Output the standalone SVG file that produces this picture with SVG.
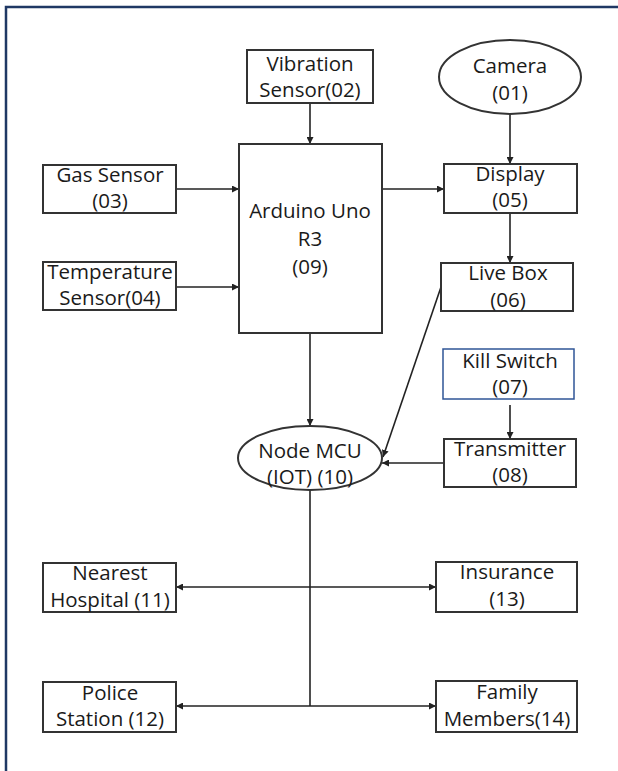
<svg xmlns="http://www.w3.org/2000/svg" width="618" height="771" viewBox="0 0 618 771">
  <style>
    .box { fill: #ffffff; stroke: #333333; stroke-width: 2; }
    .blue { fill: #ffffff; stroke: #2f5597; stroke-width: 1.5; }
    .lbl { font-family: "Open Sans", "Liberation Sans", sans-serif; font-size: 20.5px; fill: #1a1a1a; text-anchor: middle; }
    .wire { fill: none; stroke: #222222; stroke-width: 1.6; }
    .arr { marker-end: url(#head); }
  </style>
  <defs>
    <marker id="head" viewBox="0 0 10 10" refX="10" refY="5" markerWidth="7" markerHeight="7" markerUnits="userSpaceOnUse" orient="auto">
      <path d="M0,0 L10,5 L0,10 z" fill="#222222"/>
    </marker>
  </defs>

  <rect x="0" y="0" width="618" height="771" fill="#ffffff"/>
  <!-- frame -->
  <path d="M6,771 V7 H618" fill="none" stroke="#1f3864" stroke-width="2.5"/>

  <!-- connectors -->
  <g id="connectors">
    <line class="wire arr" x1="310" y1="103" x2="310" y2="144"/>
    <line class="wire arr" x1="510" y1="114" x2="510" y2="164"/>
    <line class="wire arr" x1="176" y1="189" x2="239" y2="189"/>
    <line class="wire arr" x1="176" y1="287" x2="239" y2="287"/>
    <line class="wire arr" x1="382" y1="189" x2="444" y2="189"/>
    <line class="wire arr" x1="510" y1="213" x2="510" y2="263"/>
    <line class="wire arr" x1="510" y1="405" x2="510" y2="439"/>
    <line class="wire arr" x1="310" y1="333" x2="310" y2="426"/>
    <line class="wire arr" x1="441" y1="287" x2="383" y2="457"/>
    <line class="wire arr" x1="444" y1="463" x2="382" y2="463"/>
    <line class="wire" x1="310" y1="490" x2="310" y2="706"/>
    <line class="wire arr" x1="310" y1="587" x2="176" y2="587"/>
    <line class="wire arr" x1="310" y1="587" x2="436" y2="587"/>
    <line class="wire arr" x1="310" y1="706" x2="176" y2="706"/>
    <line class="wire arr" x1="310" y1="706" x2="436" y2="706"/>
  </g>

  <g id="camera">
    <ellipse class="box" cx="510" cy="77" rx="71" ry="37"/>
    <text class="lbl" x="510" y="73">Camera</text>
    <text class="lbl" x="510" y="100">(01)</text>
  </g>
  <g id="vibration-sensor">
    <rect class="box" x="247" y="50" width="126" height="53"/>
    <text class="lbl" x="310" y="71">Vibration</text>
    <text class="lbl" x="310" y="97">Sensor(02)</text>
  </g>
  <g id="gas-sensor">
    <rect class="box" x="43" y="165" width="133" height="48"/>
    <text class="lbl" x="110" y="182">Gas Sensor</text>
    <text class="lbl" x="110" y="208">(03)</text>
  </g>
  <g id="temperature-sensor">
    <rect class="box" x="43" y="262" width="133" height="48"/>
    <text class="lbl" x="110" y="279">Temperature</text>
    <text class="lbl" x="110" y="305">Sensor(04)</text>
  </g>
  <g id="display">
    <rect class="box" x="444" y="164" width="133" height="49"/>
    <text class="lbl" x="510" y="181">Display</text>
    <text class="lbl" x="510" y="207">(05)</text>
  </g>
  <g id="live-box">
    <rect class="box" x="441" y="263" width="132" height="48"/>
    <text class="lbl" x="508" y="280">Live Box</text>
    <text class="lbl" x="508" y="307">(06)</text>
  </g>
  <g id="kill-switch">
    <rect class="blue" x="443" y="349" width="131" height="50"/>
    <text class="lbl" x="510" y="368">Kill Switch</text>
    <text class="lbl" x="510" y="394">(07)</text>
  </g>
  <g id="transmitter">
    <rect class="box" x="444" y="439" width="132" height="48"/>
    <text class="lbl" x="510" y="456">Transmitter</text>
    <text class="lbl" x="510" y="482">(08)</text>
  </g>
  <g id="arduino">
    <rect class="box" x="239" y="144" width="143" height="189"/>
    <text class="lbl" x="310" y="218">Arduino Uno</text>
    <text class="lbl" x="310" y="246">R3</text>
    <text class="lbl" x="310" y="274">(09)</text>
  </g>
  <g id="node-mcu">
    <ellipse class="box" cx="310" cy="458" rx="72" ry="32"/>
    <text class="lbl" x="310" y="458">Node MCU</text>
    <text class="lbl" x="310" y="484">(IOT) (10)</text>
  </g>
  <g id="nearest-hospital">
    <rect class="box" x="43" y="563" width="133" height="49"/>
    <text class="lbl" x="110" y="580">Nearest</text>
    <text class="lbl" x="110" y="607">Hospital (11)</text>
  </g>
  <g id="insurance">
    <rect class="box" x="436" y="562" width="141" height="50"/>
    <text class="lbl" x="507" y="579">Insurance</text>
    <text class="lbl" x="507" y="606">(13)</text>
  </g>
  <g id="police-station">
    <rect class="box" x="43" y="682" width="133" height="50"/>
    <text class="lbl" x="110" y="700">Police</text>
    <text class="lbl" x="110" y="726">Station (12)</text>
  </g>
  <g id="family-members">
    <rect class="box" x="436" y="681" width="141" height="51"/>
    <text class="lbl" x="507" y="699">Family</text>
    <text class="lbl" x="507" y="726">Members(14)</text>
  </g>
</svg>
